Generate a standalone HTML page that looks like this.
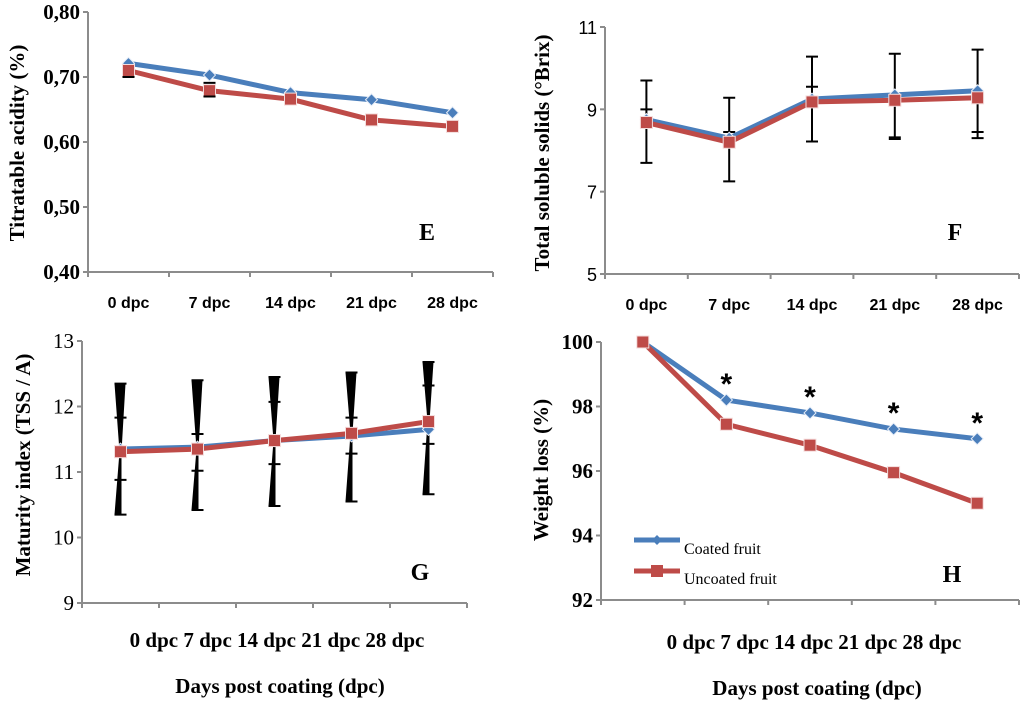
<!DOCTYPE html>
<html><head><meta charset="utf-8"><style>
html,body{margin:0;padding:0;background:#fff}
svg{display:block}
.ser{font-family:"Liberation Serif",serif}
.san{font-family:"Liberation Sans",sans-serif}
</style></head><body>
<svg id="chart" width="1024" height="702" viewBox="0 0 1024 702" xmlns="http://www.w3.org/2000/svg"></svg>
<script>
const categories = ["0 dpc","7 dpc","14 dpc","21 dpc","28 dpc"];
const eBlue = [0.721,0.703,0.676,0.665,0.645];
const eRed  = [0.710,0.679,0.666,0.634,0.624];
const eTicks = ["0,40","0,50","0,60","0,70","0,80"];
const fBlue = [8.75,8.30,9.25,9.35,9.45];
const fRed  = [8.68,8.20,9.18,9.22,9.28];
const fErrLo = [7.7,7.25,8.22,8.28,8.3];
const fErrHi = [9.7,9.28,10.28,10.35,10.45];
const fErrCap = [9.0,8.45,9.55,8.32,8.45];
const fTicks = ["5","7","9","11"];
const gBlue = [11.35,11.38,11.48,11.55,11.65];
const gRed  = [11.31,11.35,11.48,11.59,11.77];
const gErrHi = [12.35,12.40,12.45,12.52,12.68];
const gErrLo = [10.35,10.42,10.48,10.55,10.66];
const gCapHi = [11.83,11.58,12.07,11.83,12.32];
const gCapLo = [10.88,11.02,11.12,11.28,11.43];
const gTicks = ["9","10","11","12","13"];
const hBlue = [100,98.2,97.8,97.3,97.0];
const hRed  = [100,97.45,96.8,95.95,95.0];
const hTicks = ["92","94","96","98","100"];
const hStars = [false,true,true,true,true];

const NS="http://www.w3.org/2000/svg";
const svg=document.getElementById('chart');
function mk(tag,attrs,parent,text){const e=document.createElementNS(NS,tag);for(const k in attrs)e.setAttribute(k,attrs[k]);if(text!==undefined)e.textContent=text;(parent||svg).appendChild(e);return e;}
const BLUE="#4a7ebb", RED="#be4b48";

function panel(o){
  const g=mk('g',{});
  
  
  const yS=v=>o.y0-(v-o.vmin)/(o.vmax-o.vmin)*(o.y0-o.y1);
  const cw=(o.x1-o.x0)/categories.length;
  const xS=i=>o.x0+cw*(i+0.5);
  const ax=mk('path',{d:`M${o.x0},${o.y1} V${o.y0} H${o.x1}`,stroke:'#8c8c8c','stroke-width':2,fill:'none'},g);
  
  
  for(let i=0;i<=categories.length;i++){const x=o.x0+cw*i;mk('line',{x1:x,x2:x,y1:o.y0,y2:o.y0+5,stroke:'#8c8c8c','stroke-width':2},g);}
  o.ticks.forEach((t,i)=>{
    const v=o.vmin+(o.vmax-o.vmin)*i/(o.ticks.length-1);const y=yS(v);
    mk('line',{x1:o.x0-5,x2:o.x0,y1:y,y2:y,stroke:'#8c8c8c','stroke-width':2},g);
    const tl=mk('text',{x:o.x0-8,y:y+7,'text-anchor':'end',class:o.tickCls,'font-size':o.tickSize,'font-weight':o.tickW},g,t);
    
    
  });
  if(o.catInline){
    const t=mk('text',{x:o.catX,y:o.catY,'text-anchor':'middle',class:'ser','font-size':21,'font-weight':'bold'},g,categories.join(' '));
    
    
    const d=mk('text',{x:o.catX+3,y:o.catY+46,'text-anchor':'middle',class:'ser','font-size':21,'font-weight':'bold'},g,'Days post coating (dpc)');
    
    
  } else {
    categories.forEach((c,i)=>{
      const t=mk('text',{x:xS(i),y:o.y0+36,'text-anchor':'middle',class:'san','font-size':16,'font-weight':'bold'},g,c);
      
      
    });
  }
  const yt=mk('text',{transform:`translate(${o.ytX},${o.ytY}) rotate(-90)`,'text-anchor':'middle',class:'ser','font-size':21,'font-weight':'bold'},g,o.ytitle);
  
  
  const lt=mk('text',{x:o.letX,y:o.letY,'text-anchor':'middle',class:'ser','font-size':24,'font-weight':'bold'},g,o.letter);
  
  
  if(o.pre)o.pre(g,xS,yS);
  [[o.blue,BLUE,'coated'],[o.red,RED,'uncoated']].forEach(([arr,col,nm])=>{
    const l=mk('polyline',{points:arr.map((v,i)=>xS(i)+','+yS(v)).join(' '),fill:'none',stroke:col,'stroke-width':5,'stroke-linejoin':'round'},g);
    
    
    arr.forEach((v,i)=>{
      const x=xS(i),y=yS(v);let m;
      if(col===BLUE)m=mk('path',{d:`M${x},${y-6}L${x+6},${y}L${x},${y+6}L${x-6},${y}Z`,fill:col,stroke:'#e8eef8','stroke-width':1},g);
      else m=mk('rect',{x:x-6,y:y-6,width:12,height:12,fill:col,stroke:'#f4dcdc','stroke-width':1},g);
      
      
    });
  });
  if(o.post)o.post(g,xS,yS);
}

panel({name:'panel-e-titratable-acidity',x0:88,x1:493,y0:272,y1:12,vmin:0.40,vmax:0.80,ticks:eTicks,tickCls:'ser',tickSize:21,tickW:'bold',
  ytitle:'Titratable acidity (%)',ytX:24,ytY:143,letter:'E',letX:427,letY:240,blue:eBlue,red:eRed,
  post:(g,xS,yS)=>{
    [[0,0.700],[1,0.691],[1,0.670]].forEach(([i,v])=>{mk('line',{x1:xS(i)-6,x2:xS(i)+6,y1:yS(v),y2:yS(v),stroke:'#000','stroke-width':2},g);});
  }});

panel({name:'panel-f-total-soluble-solids',x0:605,x1:1019,y0:274,y1:27,vmin:5,vmax:11,ticks:fTicks,tickCls:'san',tickSize:18,tickW:'normal',
  ytitle:'Total soluble solids (°Brix)',ytX:549,ytY:153,letter:'F',letX:955,letY:240,blue:fBlue,red:fRed,
  pre:(g,xS,yS)=>{
    fErrLo.forEach((lo,i)=>{
      const x=xS(i);
      const e=mk('path',{d:`M${x},${yS(lo)}V${yS(fErrHi[i])}M${x-6},${yS(lo)}H${x+6}M${x-6},${yS(fErrHi[i])}H${x+6}M${x-6},${yS(fErrCap[i])}H${x+6}`,stroke:'#000','stroke-width':2,fill:'none'},g);
      
      
    });
  }});

panel({name:'panel-g-maturity-index',x0:82,x1:467,y0:603,y1:341,vmin:9,vmax:13,ticks:gTicks,tickCls:'ser',tickSize:21,tickW:'normal',
  ytitle:'Maturity index (TSS / A)',ytX:30,ytY:465,letter:'G',letX:420,letY:580,blue:gBlue,red:gRed,catInline:true,catX:277,catY:647,
  pre:(g,xS,yS)=>{
    gErrHi.forEach((hi,i)=>{
      const x=xS(i),lo=gErrLo[i],m=yS(gRed[i]);
      const e=mk('path',{d:`M${x-1},${m}L${x-6},${yS(hi)}H${x+5}L${x+1},${m}Z M${x-1},${m}L${x-6},${yS(lo)}H${x+1}L${x+1},${m}Z`,fill:'#000'},g);
      
      
      mk('path',{d:`M${x-6},${yS(hi)}H${x+6}M${x-6},${yS(lo)}H${x+6}M${x-6},${yS(gCapHi[i])}H${x+6}M${x-6},${yS(gCapLo[i])}H${x+6}`,stroke:'#000','stroke-width':2},g);
    });
  }});

panel({name:'panel-h-weight-loss',x0:601,x1:1019,y0:600,y1:342,vmin:92,vmax:100,ticks:hTicks,tickCls:'ser',tickSize:21,tickW:'bold',
  ytitle:'Weight loss (%)',ytX:548,ytY:470,letter:'H',letX:952,letY:582,blue:hBlue,red:hRed,catInline:true,catX:814,catY:649,
  post:(g,xS,yS)=>{
    hStars.forEach((s,i)=>{if(!s)return;
      const t=mk('text',{x:xS(i),y:yS(hBlue[i])-6,'text-anchor':'middle',class:'san','font-size':30,'font-weight':'bold'},g,'*');
      
      
    });
    const lg=mk('g',{},g);
    
    
    const l1=mk('line',{x1:634,x2:680,y1:540,y2:540,stroke:BLUE,'stroke-width':5},lg);
    
    
    mk('path',{d:'M657,535L662,540L657,545L652,540Z',fill:BLUE},lg);
    const t1=mk('text',{x:684,y:554,class:'ser','font-size':16},lg,'Coated fruit');
    
    
    const l2=mk('line',{x1:634,x2:680,y1:571,y2:571,stroke:RED,'stroke-width':5},lg);
    
    
    mk('rect',{x:651,y:565,width:12,height:12,fill:RED},lg);
    const t2=mk('text',{x:684,y:584,class:'ser','font-size':16},lg,'Uncoated fruit');
    
    
  }});
</script>
</body></html>
